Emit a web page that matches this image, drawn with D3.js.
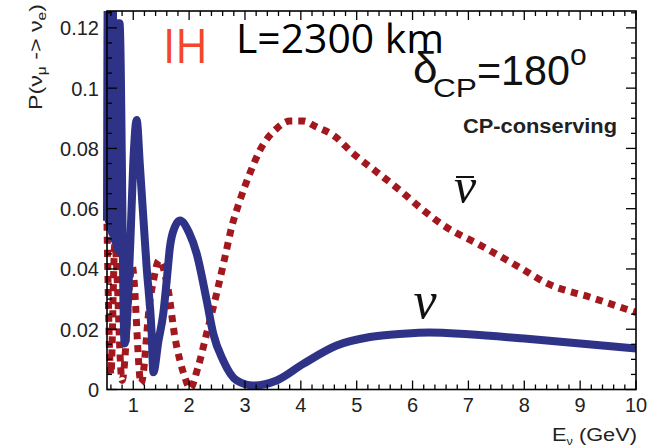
<!DOCTYPE html>
<html>
<head>
<meta charset="utf-8">
<script src="https://cdn.jsdelivr.net/npm/d3@7"></script>
<style>
  html, body { margin: 0; padding: 0; background: #fff; }
  svg { display: block; }
</style>
</head>
<body>
<div id="chart"></div>
<script>
// ---- data ----
const nuE = [0.53, 0.545, 0.56, 0.575, 0.59, 0.605, 0.62, 0.635, 0.65, 0.665, 0.68, 0.695, 0.71, 0.725, 0.74, 0.755, 0.845, 0.95, 1.0, 1.061, 1.12, 1.24, 1.33, 1.36, 1.45, 1.537, 1.598, 1.657, 1.746, 1.836, 2.0, 2.135, 2.314, 2.432, 2.611, 2.851, 3.148, 3.567, 4.043, 4.641, 5.237, 5.833, 6.3, 7, 8, 9, 10];
const nuP = [0.056, 0.135, 0.056, 0.135, 0.054, 0.135, 0.052, 0.13, 0.050, 0.1215, 0.049, 0.1215, 0.047, 0.1215, 0.046, 0.1215, 0.0153, 0.050, 0.075, 0.0894, 0.074, 0.0405, 0.0186, 0.0057, 0.016, 0.0251, 0.036, 0.0473, 0.054, 0.0561, 0.052, 0.0451, 0.0296, 0.0185, 0.0096, 0.003, 0.0013, 0.003, 0.0085, 0.0146, 0.0174, 0.0185, 0.0189, 0.0183, 0.0169, 0.0153, 0.0136];

const nubarE = [0.53, 0.60, 0.67, 0.80, 0.98, 1.14, 1.30, 1.36, 1.46, 1.627, 1.746, 1.836, 1.925, 2.015, 2.158, 2.314, 2.493, 2.642, 2.762, 2.91, 3.089, 3.268, 3.567, 3.805, 4.043, 4.283, 4.58, 4.938, 5.357, 5.774, 6.192, 6.55, 7.2, 7.92, 8.41, 9.2, 10];
const nubarP = [0.055, 0.005, 0.048, 0.003, 0.041, 0.002, 0.0296, 0.036, 0.0429, 0.0329, 0.0173, 0.0096, 0.004, 0.0003, 0.0073, 0.0186, 0.0319, 0.044, 0.0539, 0.0628, 0.0718, 0.0794, 0.0866, 0.0891, 0.0891, 0.0871, 0.0844, 0.0783, 0.0722, 0.0661, 0.0595, 0.0545, 0.048, 0.0405, 0.0352, 0.0305, 0.0256];

const xTickValues = [1, 2, 3, 4, 5, 6, 7, 8, 9, 10];
const xTickLabels = ["1", "2", "3", "4", "5", "6", "7", "8", "9", "10"];
const yTickValues = [0, 0.02, 0.04, 0.06, 0.08, 0.1, 0.12];
const yTickLabels = ["0", "0.02", "0.04", "0.06", "0.08", "0.1", "0.12"];

// ---- layout ----
const W = 662, H = 448;
const L = 107, R = 636, T = 11, B = 389.5;
const x = d3.scaleLinear().domain([0.53, 10]).range([L, R]);
const y = d3.scaleLinear().domain([0, 0.1256]).range([B, T]);

const svg = d3.select("#chart").append("svg").attr("width", W).attr("height", H);
const sans = "'Liberation Sans', Arial, Helvetica, sans-serif";

svg.append("defs").append("clipPath").attr("id", "clip")
  .append("rect").attr("x", 95).attr("y", T).attr("width", R - 95).attr("height", 420);

const plot = svg.append("g").attr("clip-path", "url(#clip)");
const line = d3.line().x(d => x(d[0])).y(d => y(d[1])).curve(d3.curveMonotoneX);

plot.append("path")
  .datum(nubarE.map((e, i) => [e, nubarP[i]]))
  .attr("d", line).attr("fill", "none")
  .attr("stroke", "#a3181e").attr("stroke-width", 7)
  .attr("stroke-dasharray", "7,6");

plot.append("path")
  .datum(nuE.map((e, i) => [e, nuP[i]]))
  .attr("d", line).attr("fill", "none")
  .attr("stroke", "#2e3388").attr("stroke-width", 8)
  .attr("stroke-linejoin", "round");

// ---- frame with inward ticks ----
const frame = svg.append("g").attr("stroke", "#000");
const minorX = d3.range(0.6, 10.0001, 0.2).filter(v => Math.abs(v - Math.round(v)) > 1e-6);
const minorY = d3.range(0.005, 0.1256, 0.005).filter(v => Math.abs(v / 0.02 - Math.round(v / 0.02)) > 1e-6);

function xt(v, len) {
  frame.append("line").attr("x1", x(v)).attr("x2", x(v)).attr("y1", B).attr("y2", B - len).attr("stroke-width", 1.3);
  frame.append("line").attr("x1", x(v)).attr("x2", x(v)).attr("y1", T).attr("y2", T + len).attr("stroke-width", 1.3);
}
function yt(v, len) {
  frame.append("line").attr("x1", L).attr("x2", L + len).attr("y1", y(v)).attr("y2", y(v)).attr("stroke-width", 1.3);
  frame.append("line").attr("x1", R).attr("x2", R - len).attr("y1", y(v)).attr("y2", y(v)).attr("stroke-width", 1.3);
}
xTickValues.forEach(v => xt(v, 9));
minorX.forEach(v => xt(v, 5));
yTickValues.forEach(v => yt(v, 10));
minorY.forEach(v => yt(v, 5));

frame.append("rect").attr("x", L).attr("y", T).attr("width", R - L).attr("height", B - T)
  .attr("fill", "none").attr("stroke-width", 1.6);

// tick labels
svg.append("g").selectAll("text").data(xTickValues).join("text")
  .attr("x", d => x(d)).attr("y", 412)
  .attr("text-anchor", "middle").attr("font-family", sans).attr("font-size", 20).attr("fill", "#222")
  .text((d, i) => xTickLabels[i]);

svg.append("g").selectAll("text").data(yTickValues).join("text")
  .attr("x", 99).attr("y", d => y(d) + 7.5)
  .attr("text-anchor", "end").attr("font-family", sans).attr("font-size", 20).attr("fill", "#222")
  .text((d, i) => yTickLabels[i]);

// axis titles
const xl = svg.append("text").attr("x", 637).attr("y", 441).attr("text-anchor", "end")
  .attr("font-family", sans).attr("font-size", 19).attr("fill", "#222")
  .attr("textLength", 85).attr("lengthAdjust", "spacingAndGlyphs");
xl.append("tspan").text("E");
xl.append("tspan").attr("dy", 4).attr("font-size", 11).text("ν");
xl.append("tspan").attr("dy", -4).text(" (GeV)");

const yl = svg.append("text").attr("transform", "translate(42,110) rotate(-90)")
  .attr("font-family", sans).attr("font-size", 18).attr("fill", "#222")
  .attr("textLength", 106).attr("lengthAdjust", "spacingAndGlyphs");
yl.append("tspan").text("P(ν");
yl.append("tspan").attr("dy", 4).attr("font-size", 12).text("μ");
yl.append("tspan").attr("dy", -4).text(" -> ν");
yl.append("tspan").attr("dy", 4).attr("font-size", 12).text("e");
yl.append("tspan").attr("dy", -4).text(")");

// annotations
svg.append("text").attr("x", 163).attr("y", 63)
  .attr("font-family", "'Open Sans', sans-serif").attr("font-size", 48).attr("fill", "#f2472d")
  .attr("textLength", 45).attr("lengthAdjust", "spacingAndGlyphs").text("IH");

svg.append("text").attr("x", 236).attr("y", 53)
  .attr("font-family", "'Open Sans', sans-serif").attr("font-size", 41).attr("fill", "#000")
  .attr("textLength", 208).attr("lengthAdjust", "spacingAndGlyphs").text("L=2300 km");

svg.append("text").attr("x", 413).attr("y", 83).attr("font-family", sans).attr("font-size", 44).attr("fill", "#111").text("δ");
svg.append("text").attr("x", 433).attr("y", 97).attr("font-family", sans).attr("font-size", 26).attr("fill", "#111")
  .attr("textLength", 44).attr("lengthAdjust", "spacingAndGlyphs").text("CP");
svg.append("text").attr("x", 477).attr("y", 85).attr("font-family", sans).attr("font-size", 42).attr("fill", "#111")
  .attr("textLength", 93).attr("lengthAdjust", "spacingAndGlyphs").text("=180");
svg.append("text").attr("x", 570).attr("y", 65).attr("font-family", sans).attr("font-size", 30).attr("fill", "#111").text("o");

svg.append("text").attr("x", 463).attr("y", 133).attr("font-family", sans).attr("font-size", 20)
  .attr("font-weight", "bold").attr("fill", "#222")
  .attr("textLength", 154).attr("lengthAdjust", "spacingAndGlyphs").text("CP-conserving");

const serif = "'Liberation Serif', 'DejaVu Serif', serif";
svg.append("text").attr("x", 465).attr("y", 203).attr("text-anchor", "middle")
  .attr("font-family", serif).attr("font-style", "italic").attr("font-size", 50).attr("fill", "#111").text("ν");
svg.append("line").attr("x1", 456).attr("x2", 474).attr("y1", 177).attr("y2", 177)
  .attr("stroke", "#111").attr("stroke-width", 2);
svg.append("text").attr("x", 425).attr("y", 318).attr("text-anchor", "middle")
  .attr("font-family", serif).attr("font-style", "italic").attr("font-size", 52).attr("fill", "#111").text("ν");
</script>
</body>
</html>
